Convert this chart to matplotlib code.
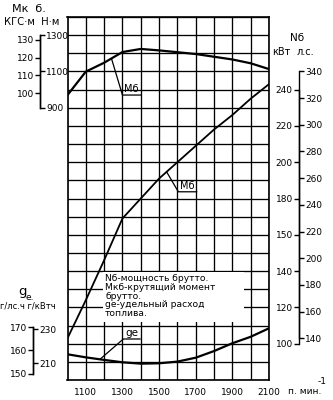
import matplotlib
matplotlib.use("Agg")
import matplotlib.pyplot as plt
import numpy as np

# engine speed, rpm
rpm = [1000, 1100, 1200, 1300, 1400, 1500, 1600, 1700, 1800, 1900, 2000, 2100]
# torque Mб, N·m
torque = [970, 1099, 1148, 1207, 1224, 1216, 1206, 1196, 1181, 1166, 1145, 1113]
# power Nб, kW
power = [103, 124, 146, 169, 180, 191, 200, 209, 218, 226, 235, 243]
# specific fuel consumption ge, g/kW·h
ge = [215.3, 213.5, 212.0, 210.6, 209.8, 210.0, 211.0, 213.3, 217.2, 221.8, 225.6, 230.6]

x_ticks = [1100, 1300, 1500, 1700, 1900, 2100]
nm_ticks = [900, 1100, 1300]
kgf_ticks = [100, 110, 120, 130]
kw_ticks = [100, 120, 140, 160, 180, 200, 220, 240]
kw_labels = ["100", "120", "140", "150", "180", "200", "220", "240"]
hp_ticks = [140, 160, 180, 200, 220, 240, 260, 280, 300, 320, 340]
gkwh_ticks = [210, 230]
ghph_ticks = [150, 160, 170]

KGF = 9.80665
HP = 1.35962
FS = 6.5
W, H = 333, 400


def fx(px):
    return px / W


def fy(py):
    return 1 - py / H


fig = plt.figure(figsize=(3.33, 4.0), dpi=100)
ax = fig.add_axes([fx(67.5), fy(380), (269 - 67.5) / W, (380 - 17) / H])

# main frame / grid in kW scale
ax.set_xlim(1000, 2100)
ax.set_ylim(80, 280)
ax.set_xticks(np.arange(1000, 2101, 100))
ax.set_xticklabels([str(v) if v in x_ticks else "" for v in np.arange(1000, 2101, 100)])
ax.set_yticks(np.arange(80, 281, 10))
ax.set_yticklabels([])
ax.tick_params(length=0, labelsize=FS, pad=6)
ax.set_axisbelow(True)
ax.grid(True, color="black", lw=0.95)
for s in ax.spines.values():
    s.set_linewidth(1.2)
    s.set_zorder(6)

ax.plot(rpm, power, color="black", lw=1.3, zorder=5)

# white legend box over the grid
ax.add_patch(plt.Rectangle((1194, 112), 770, 27.5, facecolor="white",
                           edgecolor="none", zorder=3))
lines = ["Nб-мощность брутто.", "Мкб-крутящий момент", "брутто.",
         "gе-удельный расход", "топлива."]
ys = [278.5, 287.3, 296.1, 304.9, 313.7]
for t, yy in zip(lines, ys):
    fig.text(fx(105), fy(yy), t, fontsize=6.6, va="center", ha="left", zorder=6)


def side_axis(spine, pos, lim, ticks, labels, bounds):
    a = ax.twinx()
    a.set_ylim(*lim)
    for s in a.spines.values():
        s.set_visible(False)
    a.spines[spine].set_visible(True)
    a.spines[spine].set_position(("axes", pos))
    a.spines[spine].set_bounds(*bounds)
    a.spines[spine].set_linewidth(1.0)
    a.yaxis.set_ticks_position(spine)
    a.set_yticks(ticks)
    a.set_yticklabels(labels)
    a.tick_params(axis="y", labelsize=FS, length=3.5, width=1.0, pad=1)
    a.tick_params(axis="x", which="both", bottom=False, top=False,
                  labelbottom=False, labeltop=False)
    return a


# torque axes
nm_lim = (-600, 1400)
ax_nm = side_axis("right", -0.1365, nm_lim, nm_ticks, [str(v) for v in nm_ticks], (900, 1300))
ax_kgf = side_axis("left", -0.1365, (nm_lim[0] / KGF, nm_lim[1] / KGF), kgf_ticks,
                   [str(v) for v in kgf_ticks], (900 / KGF, 1300 / KGF))
ax_nm.plot(rpm, torque, color="black", lw=1.6, zorder=5)

# power axes (right)
ax_kw = side_axis("left", 1.149, (80, 280), kw_ticks, kw_labels, (100, 240))
ax_hp = side_axis("right", 1.149, (80 * HP, 280 * HP), hp_ticks,
                  [str(v) for v in hp_ticks], (140, 340))

# fuel consumption axes
ge_lim = (200.18, 413.7)
ax_gk = side_axis("right", -0.171, ge_lim, gkwh_ticks, [str(v) for v in gkwh_ticks],
                  (150 * HP, 170 * HP))
ax_gh = side_axis("left", -0.171, (ge_lim[0] / HP, ge_lim[1] / HP), ghph_ticks,
                  [str(v) for v in ghph_ticks], (150, 170))
ax_gk.plot(rpm, ge, color="black", lw=1.6, zorder=5)

# curve labels with leaders
t0 = np.interp(1240, rpm, torque)
ax_nm.plot([1240, 1300, 1400], [t0, 970, 970], color="black", lw=0.9)
ax_nm.text(1350, 975, "Мб", fontsize=FS + 0.5, ha="center", va="bottom")

p0 = np.interp(1541, rpm, power)
ax.plot([1541, 1605, 1705], [p0, 183.7, 183.7], color="black", lw=0.9, zorder=5)
ax.text(1655, 184.3, "Мб", fontsize=FS + 0.5, ha="center", va="bottom", zorder=6)

g0 = np.interp(1177, rpm, ge)
ax_gk.plot([1177, 1305, 1396], [g0, 224.3, 224.3], color="black", lw=0.9)
ax_gk.text(1350, 224.8, "gе", fontsize=FS + 1, ha="center", va="bottom")

# headers
fig.text(fx(12), fy(9), "Мк  б.", fontsize=8, va="center", ha="left")
fig.text(fx(4), fy(22), "КГС·м  Н·м", fontsize=7.2, va="center", ha="left")
fig.text(fx(297), fy(38), "Nб", fontsize=7.5, va="center", ha="center")
fig.text(fx(272), fy(52), "кВт", fontsize=7, va="center", ha="left")
fig.text(fx(297), fy(52), "л.с.", fontsize=7, va="center", ha="left")
fig.text(fx(18), fy(292), "g", fontsize=FS + 3, va="center", ha="left")
fig.text(fx(26), fy(297), "e.", fontsize=FS, va="center", ha="left")
fig.text(fx(0), fy(306), "г/лс.ч г/кВтч", fontsize=FS - 0.5, va="center", ha="left")
fig.text(fx(288), fy(391), "п. мин.", fontsize=FS, va="center", ha="left")
fig.text(fx(318), fy(382), "-1", fontsize=FS, va="center", ha="left")

fig.savefig("out.png", dpi=100)
